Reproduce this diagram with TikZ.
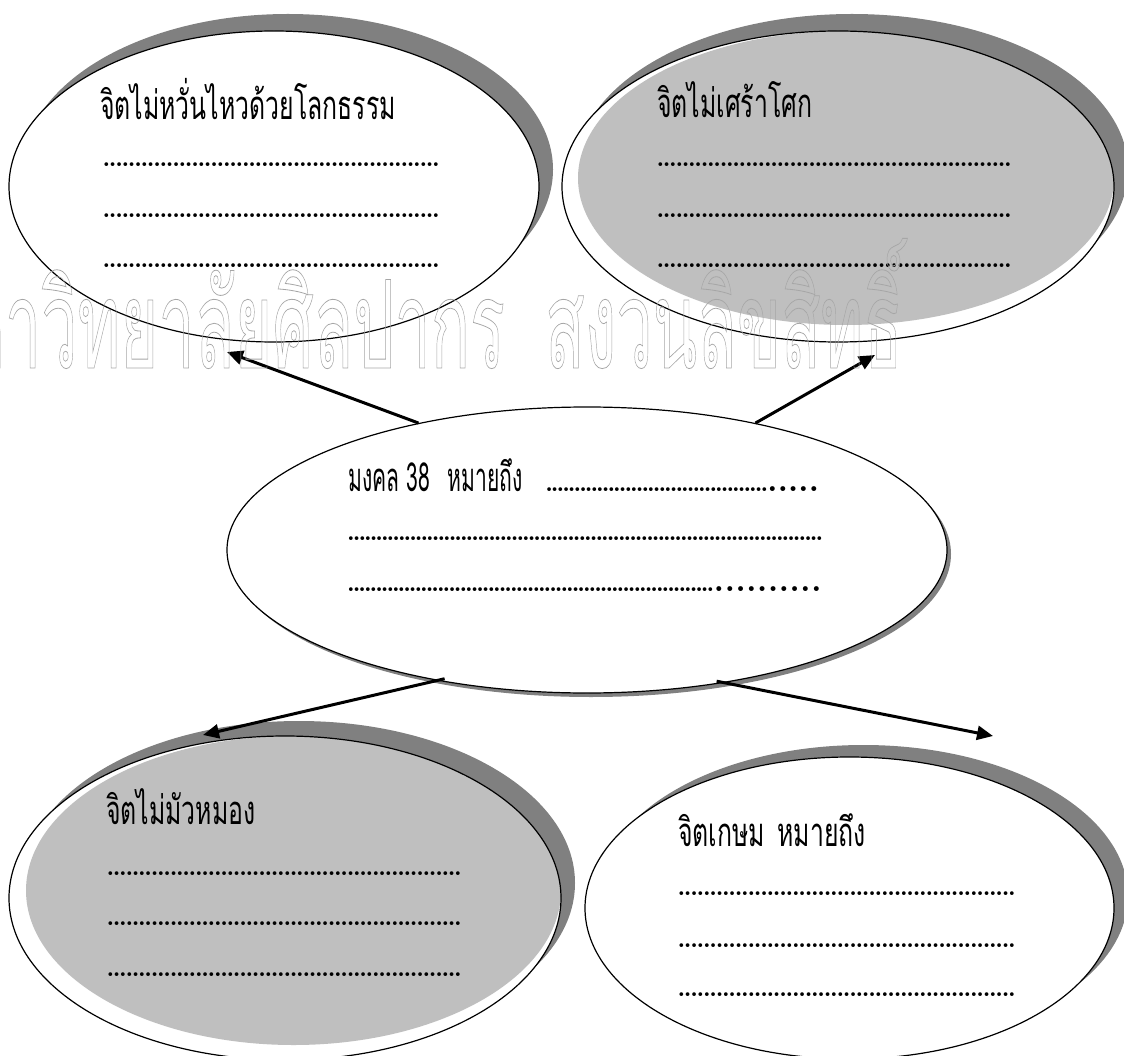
\documentclass[tikz,border=0pt]{standalone}
\usepackage{graphicx}
\usepackage{fontspec}
\newfontfamily\thaifont[Script=Thai]{Loma}
\usetikzlibrary{shapes.geometric,shadows,arrows.meta}

\definecolor{shadowgray}{HTML}{808080}
\definecolor{fillgray}{HTML}{BFBFBF}
\definecolor{markgray}{HTML}{A6A6A6}

\newcommand{\thaitext}[1]{\scalebox{0.62}[1]{\thaifont #1}}
\newcommand{\marktext}[1]{\scalebox{0.54}[1.02]{\thaifont #1}}
\newcommand{\dotrow}[2]{\makebox[#1]{\xleaders\hbox to #2{\hss.\hss}\hfill}}
\newcommand{\outlined}[1]{\special{pdf:literal direct 1 Tr 0.8 w}#1\special{pdf:literal direct 0 Tr}}

\tikzset{
  bubble/.style={ellipse, draw, line width=1.2pt, fill=white, inner sep=0pt},
  shadowed/.style={drop shadow={shadow xshift=14pt, shadow yshift=#1, opacity=1, fill=shadowgray}},
  pointer/.style={-{Triangle[length=16pt,width=14pt]}, line width=3pt},
  heading/.style={anchor=base west, inner sep=0pt, font=\fontsize{40}{40}\selectfont},
  dotline/.style={anchor=base west, inner sep=0pt, font=\bfseries\fontsize{26}{26}\selectfont},
  bigdots/.style={anchor=base west, inner sep=0pt, font=\bfseries\fontsize{34}{34}\selectfont},
}

\begin{document}
\begin{tikzpicture}[x=1pt, y=-1pt]
	\useasboundingbox (0,0) rectangle (1124,1056);

	% the five bubbles
	\node[bubble, shadowed=17pt, minimum width=530pt, minimum height=311pt] (lokadhamma) at (274,186.5) {};
	\node[bubble, shadowed=17pt, minimum width=552pt, minimum height=311pt,
		path picture={\fill[fillgray] ([xshift=8pt,yshift=8.5pt]path picture bounding box.center) ellipse [x radius=268pt, y radius=147pt];}] (asoka) at (838,186.5) {};
	\node[bubble, drop shadow={shadow xshift=4pt, shadow yshift=-4pt, opacity=1, fill=shadowgray}, minimum width=720pt, minimum height=286pt] (mangala) at (587,550) {};
	\node[bubble, shadowed=15pt, minimum width=552pt, minimum height=324pt,
		path picture={\fill[fillgray] ([xshift=8.5pt,yshift=7.5pt]path picture bounding box.center) ellipse [x radius=267.5pt, y radius=154.5pt];}] (viraja) at (285,898) {};
	\node[bubble, shadowed=12pt, minimum width=529pt, minimum height=302pt] (khema) at (849.5,908) {};

	% texts
	\node[heading] (lokaTitle) at (100,120) {\thaitext{จิตไม่หวั่นไหวด้วยโลกธรรม}};
	\node[dotline] (lokaA) at (103,167) {\dotrow{336pt}{6.3pt}};
	\node[dotline] (lokaB) at (103,218) {\dotrow{336pt}{6.3pt}};
	\node[dotline] (lokaC) at (103,268) {\dotrow{336pt}{6.3pt}};

	\node[heading] (asokaTitle) at (657,118) {\thaitext{จิตไม่เศร้าโศก}};
	\node[dotline] (asokaA) at (657,167) {\dotrow{354pt}{6.3pt}};
	\node[dotline] (asokaB) at (657,218) {\dotrow{354pt}{6.3pt}};
	\node[dotline] (asokaC) at (657,268) {\dotrow{354pt}{6.3pt}};

	\node[heading] (mangalaTitle) at (348,491) {\scalebox{0.85}[1]{\thaitext{มงคล 38\hspace{34pt}หมายถึง}}};
	\node[dotline] (mangalaA) at (546,491) {\dotrow{221pt}{5.6pt}};
	\node[bigdots] (mangalaA2) at (767,491) {\dotrow{52pt}{10pt}};
	\node[dotline] (mangalaB) at (348,540) {\dotrow{474pt}{5.6pt}};
	\node[dotline] (mangalaC) at (348,591) {\dotrow{365pt}{5.6pt}};
	\node[bigdots] (mangalaC2) at (713,591) {\dotrow{109pt}{10pt}};

	\node[heading] (virajaTitle) at (106,824) {\thaitext{จิตไม่มัวหมอง}};
	\node[dotline] (virajaA) at (107,875) {\dotrow{354pt}{6.3pt}};
	\node[dotline] (virajaB) at (107,925) {\dotrow{354pt}{6.3pt}};
	\node[dotline] (virajaC) at (107,976) {\dotrow{354pt}{6.3pt}};

	\node[heading] (khemaTitle) at (678,846) {\thaitext{จิตเกษม\enspace หมายถึง}};
	\node[dotline] (khemaA) at (678,895) {\dotrow{337pt}{6.3pt}};
	\node[dotline] (khemaB) at (678,947) {\dotrow{337pt}{6.3pt}};
	\node[dotline] (khemaC) at (678,996) {\dotrow{337pt}{6.3pt}};

	% arrows
	\coordinate (lokaEnd) at (227,352);
	\coordinate (asokaEnd) at (875,355);
	\coordinate (virajaEnd) at (203,735);
	\coordinate (khemaEnd) at (993,736);
	\draw[pointer] (mangala.143) -- (lokaEnd);
	\draw[pointer] (mangala.37) -- (asokaEnd);
	\draw[pointer, shorten <=-8pt] (mangala.221) -- (virajaEnd);
	\draw[pointer, shorten <=-8pt] (mangala.-44) -- (khemaEnd);

	% watermark
	\node[anchor=base east, inner sep=0pt, text=markgray, font=\fontsize{120}{120}\selectfont] (markLeft) at (505,368) {\outlined{\marktext{มหาวิทยาลัยศิลปากร}}};
	\node[anchor=base west, inner sep=0pt, text=markgray, font=\fontsize{120}{120}\selectfont] (markRight) at (545,368) {\outlined{\marktext{สงวนลิขสิทธิ์}}};
\end{tikzpicture}
\end{document}
